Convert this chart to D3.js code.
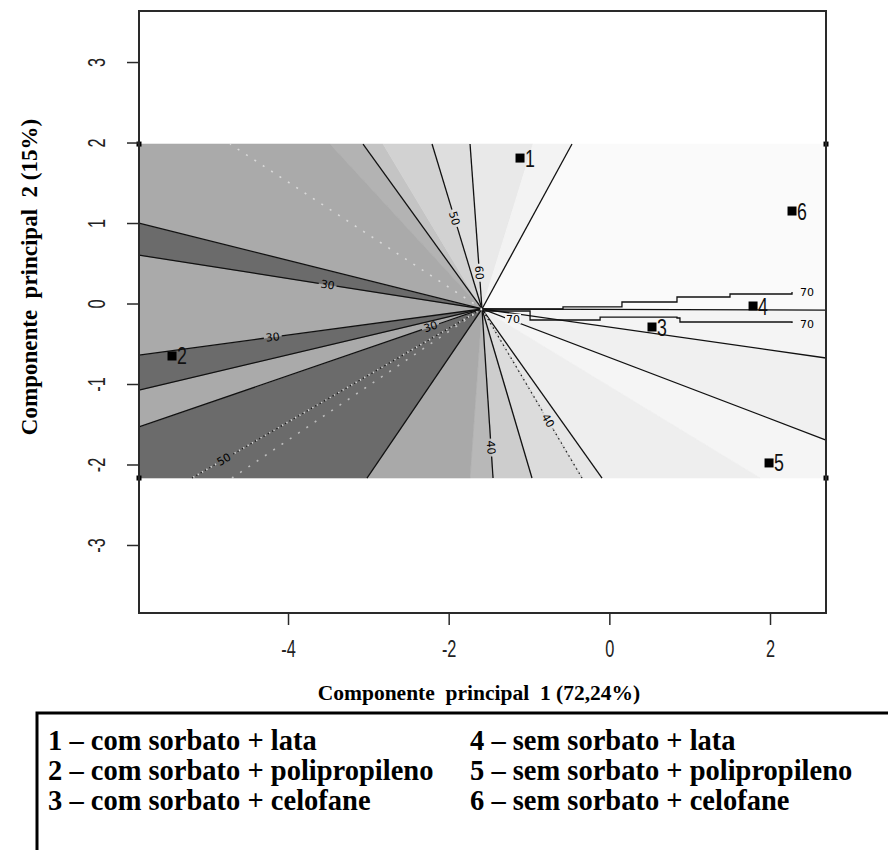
<!DOCTYPE html>
<html>
<head>
<meta charset="utf-8">
<script src="https://cdn.jsdelivr.net/npm/d3@7"></script>
<style>
  body { margin: 0; background: #fff; }
  svg { display: block; }
  text { white-space: pre; }
</style>
</head>
<body>
<svg id="chart" width="888" height="850"></svg>
<script>
// PCA scores of the six treatments
const pointIds = ["1", "2", "3", "4", "5", "6"];
const pc1 = [-1.112, -5.444, 0.531, 1.789, 1.988, 2.274];
const pc2 = [1.807, -0.652, -0.292, -0.031, -1.981, 1.149];

const xTicks = [-4, -2, 0, 2];
const yTicks = [-3, -2, -1, 0, 1, 2, 3];

// extent of the shaded response surface and the point the contours meet in
const gridX = [-5.855, 2.697];
const gridY = [-2.168, 1.981];
const focus = [-1.585, -0.068];

// shaded fan: boundary stops (clockwise) and the gray of the sector after each stop
const sectorStops = [
  [-3.477, 1.981], [-3.066, 1.981], [-2.817, 1.981], [-2.207, 1.981], [-1.734, 1.981],
  [-0.950, 1.981], [-0.465, 1.981],
  [2.697, -0.081], [2.697, -0.677], [2.697, -1.696],
  [1.876, -2.168], [-0.091, -2.168], [-0.340, -2.168], [-0.963, -2.168], [-1.448, -2.168],
  [-1.734, -2.168], [-3.017, -2.168],
  [-5.855, -1.534], [-5.855, -1.075], [-5.855, -0.640], [-5.855, 0.602], [-5.855, 1.000]
];
const sectorGray = [
  "#b3b3b3", "#c4c4c4", "#d2d2d2", "#dedede", "#e9e9e9",
  "#f3f3f3", "#fafafa",
  "#f4f4f4", "#f0f0f0", "#f5f5f5",
  "#eeeeee", "#e6e6e6", "#dcdcdc", "#cdcdcd", "#b8b8b8",
  "#a9a9a9", "#6b6b6b",
  "#aaaaaa", "#6b6b6b", "#aaaaaa", "#6b6b6b", "#aaaaaa"
];

// straight contour lines leaving the focus
const rayEnds = [
  [-3.066, 1.981], [-2.207, 1.981], [-1.734, 1.981], [-0.465, 1.981],
  [2.697, -0.081], [2.697, -0.677], [2.697, -1.696],
  [-0.091, -2.168], [-0.963, -2.168], [-1.448, -2.168], [-3.017, -2.168],
  [-5.855, -1.534], [-5.855, -1.075], [-5.855, -0.640], [-5.855, 0.602], [-5.855, 1.000]
];
const rayLabels = ["", "50", "60", "", "", "", "", "", "", "40", "", "30", "", "30", "30", ""];
const rayLabelAt = [0, 0.55, 0.22, 0, 0, 0, 0, 0, 0, 0.82, 0, 0.15, 0, 0.61, 0.45, 0];

// dotted contours
const dotEnds = [[-0.340, -2.168], [-5.195, -2.168], [-4.722, 1.981], [-4.697, -2.168]];
const dotLabels = ["40", "50", "", ""];
const dotLabelAt = [0.66, 0.89, 0, 0];
const dotDark = [true, true, false, false];

// the two 70 contours on the right
const upper70 = [[-1.585, -0.068], [-0.577, -0.043], [0.157, 0.019], [0.842, 0.081],
                 [1.502, 0.118], [2.187, 0.118], [2.274, 0.143]];
const lower70 = [[-1.585, -0.093], [-0.987, -0.205], [-0.115, -0.168], [0.842, -0.180],
                 [0.879, -0.230], [2.274, -0.242]];
const label70 = [[2.461, 0.143], [2.461, -0.255], [-1.199, -0.190]];

const legendLeft = ["1 – com sorbato + lata", "2 – com sorbato + polipropileno", "3 – com sorbato + celofane"];
const legendRight = ["4 – sem sorbato + lata", "5 – sem sorbato + polipropileno", "6 – sem sorbato + celofane"];

const svg = d3.select("#chart");
const sans = '"Liberation Sans",Arial,sans-serif';
const serif = '"Liberation Serif","Times New Roman",serif';

const x = d3.scaleLinear().domain([-5.855, 2.697]).range([139, 826]);
const y = d3.scaleLinear().domain([-3.845, 3.634]).range([613, 11]);

const plot = svg.append("g");

// perimeter parameter of a stop on the grid rectangle (clockwise from top-left)
const W = gridX[1] - gridX[0], H = gridY[1] - gridY[0];
const eps = 1e-6;
function perimT(p) {
  if (Math.abs(p[1] - gridY[1]) < eps && p[0] < gridX[1] - eps) return (p[0] - gridX[0]) / W;
  if (Math.abs(p[0] - gridX[1]) < eps && p[1] > gridY[0] + eps) return 1 + (gridY[1] - p[1]) / H;
  if (Math.abs(p[1] - gridY[0]) < eps && p[0] > gridX[0] + eps) return 2 + (gridX[1] - p[0]) / W;
  return 3 + (p[1] - gridY[0]) / H;
}
const corners = [[gridX[0], gridY[1]], [gridX[1], gridY[1]], [gridX[1], gridY[0]], [gridX[0], gridY[0]]];

const sectors = sectorStops.map((p, i) => {
  const q = sectorStops[(i + 1) % sectorStops.length];
  let ta = perimT(p), tb = perimT(q);
  if (tb <= ta) tb += 4;
  const pts = [focus, p];
  for (let k = Math.ceil(ta + eps); k < tb - eps; k++) pts.push(corners[k % 4]);
  pts.push(q);
  return { pts, gray: sectorGray[i] };
});

plot.append("g").selectAll("path")
  .data(sectors)
  .join("path")
  .attr("d", d => "M" + d.pts.map(p => [x(p[0]), y(p[1])].join(",")).join("L") + "Z")
  .attr("fill", d => d.gray)
  .attr("stroke", d => d.gray)
  .attr("stroke-width", 0.6);

// a ray from the focus, with a gap where its label sits
function rayPieces(end, at, hasLabel) {
  const x0 = x(focus[0]), y0 = y(focus[1]), x1 = x(end[0]), y1 = y(end[1]);
  const len = Math.hypot(x1 - x0, y1 - y0);
  if (!hasLabel) return { segs: [[[x0, y0], [x1, y1]]] };
  const g = 9 / len;
  const lx = x0 + (x1 - x0) * at, ly = y0 + (y1 - y0) * at;
  let ang = Math.atan2(y1 - y0, x1 - x0) * 180 / Math.PI;
  if (ang > 90) ang -= 180;
  if (ang <= -90) ang += 180;
  return {
    segs: [
      [[x0, y0], [x0 + (x1 - x0) * (at - g), y0 + (y1 - y0) * (at - g)]],
      [[x0 + (x1 - x0) * (at + g), y0 + (y1 - y0) * (at + g)], [x1, y1]]
    ],
    label: { lx, ly, ang }
  };
}

const lines = plot.append("g");
const labelsG = plot.append("g");

function addLabel(r, txt) {
  labelsG.append("text")
    .attr("transform", `translate(${r.label.lx},${r.label.ly}) rotate(${r.label.ang})`)
    .attr("text-anchor", "middle").attr("dy", "0.35em")
    .attr("font-family", "DejaVu Sans, sans-serif").attr("font-size", 11)
    .text(txt);
}

rayEnds.forEach((e, i) => {
  const r = rayPieces(e, rayLabelAt[i], rayLabels[i] !== "");
  r.segs.forEach(s => {
    lines.append("line")
      .attr("x1", s[0][0]).attr("y1", s[0][1]).attr("x2", s[1][0]).attr("y2", s[1][1])
      .attr("stroke", "#111").attr("stroke-width", 1.3);
  });
  if (r.label) addLabel(r, rayLabels[i]);
});

dotEnds.forEach((e, i) => {
  const r = rayPieces(e, dotLabelAt[i], dotLabels[i] !== "");
  r.segs.forEach(s => {
    if (dotDark[i]) {
      lines.append("line")
        .attr("x1", s[0][0]).attr("y1", s[0][1]).attr("x2", s[1][0]).attr("y2", s[1][1])
        .attr("stroke", "#222").attr("stroke-width", 1.3).attr("stroke-dasharray", "3,2");
    }
    lines.append("line")
      .attr("x1", s[0][0]).attr("y1", s[0][1]).attr("x2", s[1][0]).attr("y2", s[1][1])
      .attr("stroke", "#fff").attr("stroke-opacity", dotDark[i] ? 0.8 : 0.55)
      .attr("stroke-width", 1.6).attr("stroke-dasharray", dotDark[i] ? "1.5,3.5" : "2,8");
  });
  if (r.label) addLabel(r, dotLabels[i]);
});

const lineGen = d3.line().x(d => x(d[0])).y(d => y(d[1])).curve(d3.curveStepAfter);
[upper70, lower70].forEach(pl => {
  lines.append("path")
    .attr("d", lineGen(pl))
    .attr("fill", "none").attr("stroke", "#111").attr("stroke-width", 1.3);
});
// gap + label on the lower 70 near the focus
labelsG.append("rect")
  .attr("x", x(label70[2][0]) - 8).attr("y", y(label70[2][1]) - 5)
  .attr("width", 16).attr("height", 10).attr("fill", "#f4f4f4");
labelsG.selectAll("text.l70")
  .data(label70)
  .join("text")
  .attr("class", "l70")
  .attr("x", d => x(d[0])).attr("y", d => y(d[1]))
  .attr("dy", "0.35em").attr("text-anchor", "middle")
  .attr("font-family", "DejaVu Sans, sans-serif").attr("font-size", 11)
  .text("70");

// grid corner marks
plot.append("g").selectAll("rect")
  .data(corners)
  .join("rect")
  .attr("x", d => x(d[0]) - 2.5).attr("y", d => y(d[1]) - 2.5)
  .attr("width", 5).attr("height", 5).attr("fill", "#000");

// treatment points
const pts = plot.append("g").selectAll("g")
  .data(pointIds.map((id, i) => ({ id, v1: pc1[i], v2: pc2[i] })))
  .join("g")
  .attr("transform", d => `translate(${x(d.v1)},${y(d.v2)})`);
pts.append("rect")
  .attr("x", -4.5).attr("y", -4.5).attr("width", 9).attr("height", 9).attr("fill", "#000");
pts.append("text")
  .attr("transform", "translate(5,8.5) scale(0.74,1)")
  .attr("font-family", sans).attr("font-size", 24)
  .attr("fill", "#111")
  .text(d => d.id);

// frame
svg.append("rect")
  .attr("x", 139).attr("y", 11).attr("width", 826 - 139).attr("height", 613 - 11)
  .attr("fill", "none").attr("stroke", "#2a2a2a").attr("stroke-width", 2);

// axes (hyphen minus like the original)
const xAxis = svg.append("g")
  .attr("transform", "translate(0,613)")
  .call(d3.axisBottom(x).tickValues(xTicks).tickSize(12).tickFormat(d => String(d)));
xAxis.select(".domain").remove();
xAxis.selectAll(".tick line").attr("stroke", "#2a2a2a").attr("stroke-width", 1.5);
xAxis.selectAll(".tick text")
  .attr("y", null).attr("dy", null)
  .attr("transform", "translate(0,44) scale(0.68,1)")
  .attr("font-family", sans).attr("font-size", 24).attr("fill", "#222");

const yAxis = svg.append("g")
  .attr("transform", "translate(139,0)")
  .call(d3.axisLeft(y).tickValues(yTicks).tickSize(12).tickFormat(d => String(d)));
yAxis.select(".domain").remove();
yAxis.selectAll(".tick line").attr("stroke", "#2a2a2a").attr("stroke-width", 1.5);
yAxis.selectAll(".tick text")
  .attr("x", null).attr("dy", null)
  .attr("transform", "translate(-34,0) rotate(-90) scale(0.68,1)")
  .attr("text-anchor", "middle")
  .attr("font-family", sans).attr("font-size", 24).attr("fill", "#222");

// axis titles
svg.append("text")
  .attr("x", 479).attr("y", 700)
  .attr("text-anchor", "middle")
  .attr("font-family", serif).attr("font-weight", "bold").attr("font-size", 21.5)
  .text("Componente  principal  1 (72,24%)");
svg.append("text")
  .attr("transform", "translate(37,277) rotate(-90)")
  .attr("text-anchor", "middle")
  .attr("font-family", serif).attr("font-weight", "bold").attr("font-size", 23)
  .text("Componente  principal  2 (15%)");

// legend box
const legend = svg.append("g");
legend.append("path")
  .attr("d", "M37,850V713H888")
  .attr("fill", "none").attr("stroke", "#000").attr("stroke-width", 3);
const legendRows = legendLeft.map((t, i) => ({ t, col: 48, row: i }))
  .concat(legendRight.map((t, i) => ({ t, col: 470, row: i })));
legend.selectAll("text")
  .data(legendRows)
  .join("text")
  .attr("x", d => d.col).attr("y", d => 750 + d.row * 30)
  .attr("font-family", serif).attr("font-weight", "bold").attr("font-size", 28.5)
  .text(d => d.t);
</script>
</body>
</html>
